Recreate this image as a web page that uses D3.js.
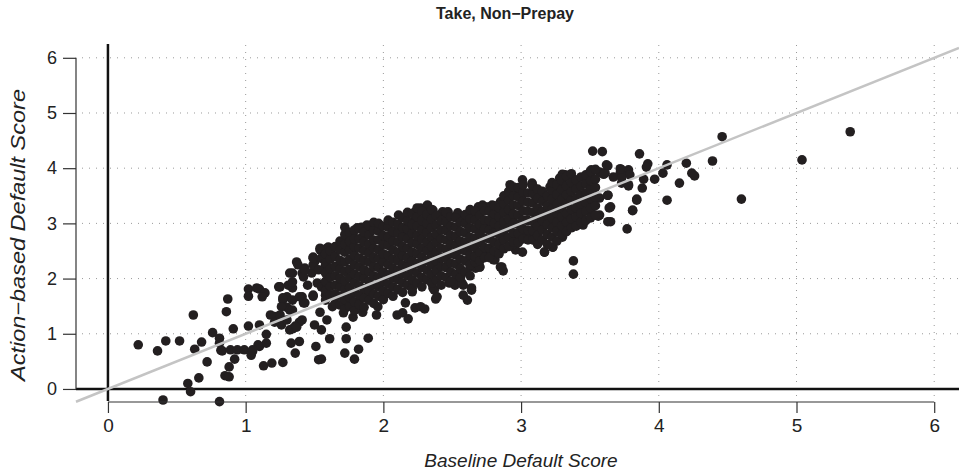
<!DOCTYPE html>
<html>
<head>
<meta charset="utf-8">
<script src="https://cdn.jsdelivr.net/npm/d3@7"></script>
<style>
  body { margin: 0; background: #fff; }
  svg text { font-family: "Liberation Sans", Arial, Helvetica, sans-serif; fill: #222; }
</style>
</head>
<body>
<div id="chart"></div>
<script>

var title = "Take, Non\u2212Prepay";
var xLabel = "Baseline Default Score";
var yLabel = "Action\u2212based Default Score";
var xTicks = [0, 1, 2, 3, 4, 5, 6];
var yTicks = [0, 1, 2, 3, 4, 5, 6];

// [baseline, action-based] pairs
var lowerTail = [
  [0.22,0.80],[0.36,0.69],[0.42,0.87],[0.52,0.87],[0.62,1.34],[0.63,0.72],[0.68,0.85],[0.72,0.49],
  [0.66,0.20],[0.58,0.10],[0.60,-0.05],[0.40,-0.20],[0.81,-0.23],[0.76,1.02],[0.81,0.92],[0.82,0.70],
  [0.81,0.83],[0.83,0.69],[0.86,1.40],[0.87,1.63],[0.91,1.09],[0.89,0.71],[0.94,0.71],[0.99,0.71],
  [0.92,0.54],[0.88,0.40],[0.85,0.24],[0.88,0.22],
  [1.02,1.14],[1.10,1.16],[1.05,0.68],[1.04,0.61],[1.10,0.77],[1.13,0.42],[1.19,0.47],[1.27,0.48],
  [1.15,0.83],[1.15,0.99],[1.09,0.80],[1.05,0.71],
  [1.21,1.31],[1.26,1.16],[1.30,1.48],[1.36,0.65],[1.33,0.83],[1.39,0.86],[1.32,1.07],[1.36,1.14],
  [1.39,1.21],[1.34,1.09],[1.50,1.16],[1.51,0.77],[1.53,0.53],
  [1.42,1.56],[1.27,1.61],[1.02,1.81],[1.02,1.68],[1.10,1.81],[1.14,1.74],[1.24,1.85],[1.30,1.67],
  [1.26,1.49],[1.32,1.43],[1.34,1.83],[1.41,1.67],[1.43,1.56],[1.49,1.68],
  [1.12,1.67],[1.08,1.83],[1.18,1.34],[1.21,1.21],[1.30,1.25],[1.37,1.12],[1.25,1.34],[1.34,1.61],
  [1.27,1.65],[1.34,1.43],[1.41,1.25],
  [1.37,2.30],[1.49,2.39],[1.50,2.30],[1.54,2.52],[1.59,2.55],[1.58,2.25],[1.60,2.16],[1.43,2.19],
  [1.41,2.10],[1.48,2.10],[1.45,1.88],[1.52,1.92],[1.55,1.85],[1.59,1.88],[1.39,1.67],[1.49,1.70],
  [1.58,1.70],[1.42,2.03],[1.34,2.10],[1.38,2.25],[1.43,2.16],[1.32,2.10],[1.31,1.88],[1.34,1.94],
  [1.25,1.85],[1.55,2.37],[1.49,2.25],[1.53,2.16],[1.63,2.43],[1.60,2.57],
  [2.51,1.94],[2.58,1.88],[2.64,1.79],[2.61,1.61],[2.58,1.70],[2.37,1.79],[2.38,1.63],[2.16,1.56],
  [2.10,1.34],[2.14,1.38],[2.18,1.27],[2.23,1.47],[2.27,1.49],[2.30,1.45],[2.21,1.76],
  [1.96,1.49],[1.95,1.34],[1.85,1.39],[1.78,1.30],[1.71,1.38],[1.73,1.12],[1.73,0.91],[1.61,0.91],
  [1.55,1.07],[1.55,0.54],[1.72,0.65],[1.79,0.54],[1.82,0.72],[1.89,0.92],
  [1.88,1.67],[1.82,1.58],[1.74,1.52],[1.59,1.25],[1.54,1.39],[1.63,1.49],[1.58,1.61],[1.63,1.70],
  [2.48,1.92],[2.52,1.88],[2.57,1.92],[2.64,1.83],[2.36,1.83],[2.39,1.67],[2.63,2.21],[2.67,2.19],
  [2.70,2.21],[2.80,2.34],[2.85,2.21],[2.87,2.14],[2.74,2.46],[2.81,2.34],
  [3.17,2.48],[3.23,2.57],[3.38,2.32],[3.38,2.08],[2.96,2.52],[3.01,2.48],[2.94,2.61],[2.85,2.55]
];

// the dense middle of the cloud, column by column: [baseline, [action-based values]]
var coreColumns = [
  [1.58, [1.78, 1.95, 2.10, 2.28, 2.45]],
  [1.615, [1.70, 1.86, 2.02, 2.18, 2.35, 2.50]],
  [1.65, [1.55, 1.72, 1.88, 2.05, 2.22, 2.40, 2.58]],
  [1.685, [1.52, 1.68, 1.85, 2.00, 2.17, 2.33, 2.52, 2.68]],
  [1.72, [1.45, 1.62, 1.80, 1.96, 2.13, 2.30, 2.48, 2.62, 2.80]],
  [1.755, [1.50, 1.66, 1.84, 2.01, 2.17, 2.35, 2.52, 2.67, 2.84]],
  [1.79, [1.42, 1.58, 1.75, 1.92, 2.08, 2.25, 2.42, 2.58, 2.72, 2.88]],
  [1.825, [1.53, 1.70, 1.87, 2.04, 2.21, 2.37, 2.55, 2.72, 2.90]],
  [1.86, [1.48, 1.65, 1.82, 2.00, 2.16, 2.33, 2.50, 2.66, 2.84]],
  [1.895, [1.61, 1.78, 1.95, 2.12, 2.30, 2.46, 2.62, 2.79, 2.96]],
  [1.93, [1.55, 1.72, 1.88, 2.05, 2.22, 2.38, 2.55, 2.70, 2.88, 3.02]],
  [1.965, [1.68, 1.85, 2.03, 2.20, 2.36, 2.52, 2.70, 2.86, 3.00]],
  [2.00, [1.62, 1.78, 1.95, 2.12, 2.30, 2.45, 2.62, 2.78, 2.95]],
  [2.035, [1.73, 1.90, 2.07, 2.25, 2.42, 2.60, 2.76, 2.93, 3.06]],
  [2.07, [1.68, 1.85, 2.02, 2.18, 2.35, 2.52, 2.68, 2.85, 3.02]],
  [2.105, [1.80, 1.98, 2.15, 2.32, 2.48, 2.66, 2.82, 2.98]],
  [2.14, [1.75, 1.92, 2.08, 2.25, 2.42, 2.58, 2.75, 2.92, 3.10]],
  [2.175, [1.88, 2.05, 2.22, 2.38, 2.55, 2.72, 2.90, 3.05, 3.20]],
  [2.21, [1.82, 1.98, 2.15, 2.32, 2.48, 2.65, 2.82, 2.98, 3.18]],
  [2.245, [1.92, 2.10, 2.27, 2.45, 2.62, 2.78, 2.95, 3.12, 3.28]],
  [2.28, [1.85, 2.02, 2.20, 2.38, 2.55, 2.72, 2.88, 3.05, 3.22]],
  [2.315, [1.98, 2.15, 2.32, 2.50, 2.66, 2.83, 3.00, 3.16]],
  [2.35, [1.92, 2.08, 2.25, 2.42, 2.58, 2.75, 2.92, 3.08, 3.25]],
  [2.385, [1.97, 2.14, 2.31, 2.48, 2.65, 2.80, 2.97, 3.14]],
  [2.42, [1.88, 2.05, 2.22, 2.38, 2.55, 2.72, 2.88, 3.05]],
  [2.455, [2.02, 2.20, 2.36, 2.53, 2.70, 2.87, 3.03, 3.20]],
  [2.49, [1.95, 2.12, 2.28, 2.45, 2.62, 2.78, 2.95, 3.12]],
  [2.525, [2.08, 2.26, 2.43, 2.60, 2.76, 2.93, 3.10]],
  [2.56, [2.02, 2.18, 2.35, 2.52, 2.68, 2.85, 3.02]],
  [2.595, [2.12, 2.32, 2.50, 2.66, 2.83, 3.00, 3.16]],
  [2.63, [2.05, 2.25, 2.42, 2.58, 2.75, 2.92, 3.08, 3.25]],
  [2.665, [2.30, 2.40, 2.56, 2.73, 2.90, 3.06, 3.22]],
  [2.70, [2.32, 2.48, 2.65, 2.82, 2.98, 3.15]],
  [2.735, [2.38, 2.56, 2.73, 2.90, 3.06, 3.23]],
  [2.77, [2.38, 2.55, 2.72, 2.88, 3.05, 3.22]],
  [2.805, [2.50, 2.66, 2.83, 3.00, 3.17, 3.32]],
  [2.84, [2.45, 2.62, 2.80, 2.95, 3.12, 3.28]],
  [2.875, [2.54, 2.70, 2.87, 3.03, 3.20, 3.36, 3.50]],
  [2.91, [2.58, 2.75, 2.92, 3.08, 3.25, 3.42, 3.58]],
  [2.945, [2.66, 2.83, 3.00, 3.17, 3.33, 3.50, 3.66]],
  [2.98, [2.65, 2.82, 2.98, 3.15, 3.32, 3.48, 3.65]],
  [3.015, [2.72, 2.90, 3.06, 3.23, 3.40, 3.56, 3.70]],
  [3.05, [2.70, 2.88, 3.05, 3.22, 3.38, 3.55]],
  [3.085, [2.70, 2.87, 3.03, 3.20, 3.37, 3.54, 3.68]],
  [3.12, [2.62, 2.78, 2.95, 3.12, 3.28, 3.45, 3.62]],
  [3.155, [2.70, 2.88, 3.05, 3.22, 3.40, 3.58]],
  [3.19, [2.62, 2.80, 2.98, 3.15, 3.32, 3.50]],
  [3.225, [2.75, 2.92, 3.10, 3.26, 3.44, 3.60, 3.74]],
  [3.26, [2.68, 2.85, 3.02, 3.18, 3.35, 3.52, 3.70]],
  [3.295, [2.80, 2.96, 3.12, 3.28, 3.44, 3.62, 3.78]],
  [3.33, [2.85, 3.02, 3.18, 3.35, 3.52, 3.68, 3.85]],
  [3.365, [2.92, 3.08, 3.25, 3.42, 3.58, 3.74, 3.90]],
  [3.40, [2.95, 3.12, 3.28, 3.45, 3.62, 3.78]],
  [3.435, [3.02, 3.18, 3.35, 3.52, 3.68, 3.84]],
  [3.47, [3.05, 3.22, 3.38, 3.55, 3.72, 3.88]],
  [3.505, [3.10, 3.28, 3.45, 3.62, 3.78, 3.94]],
  [3.54, [3.15, 3.32, 3.48, 3.65, 3.80, 3.98]]
];

var upperEdge = [
  [2.11,3.15],[2.16,3.10],[2.23,3.21],[2.27,3.28],[2.32,3.32],[2.34,3.15],[2.28,3.03],[2.24,3.12],
  [2.43,3.21],[2.47,3.21],[2.43,3.06],[2.54,3.15],[2.57,3.10],[2.64,3.21],[2.65,3.10],[2.69,3.30],
  [2.70,3.21],[1.72,2.93],[1.84,2.93],[1.88,2.97],[2.14,2.92],[2.21,2.93],[2.32,2.93],[2.46,2.92],
  [1.81,2.92],[1.90,2.83],[1.85,2.75],[1.78,2.79],[1.74,2.70],[2.01,2.74],[2.07,2.83],[2.14,2.84],
  [2.18,2.75],[1.54,2.55],[1.63,2.43],[1.55,2.37],[1.49,2.37],
  [2.32,3.33],[2.72,3.33],[2.85,3.39],[2.92,3.70],[3.01,3.55],[2.98,3.55],[3.08,3.70],[2.86,3.37],
  [2.79,3.33],[2.70,3.28],[2.64,3.19],[2.54,3.19],[2.46,3.19],[2.36,3.24],[2.30,3.21],[2.23,3.06]
];

var upperTail = [
  [5.39,4.66],[4.46,4.57],[5.04,4.15],[4.60,3.44],[4.39,4.13],[4.20,4.09],[4.24,3.91],[4.26,3.86],[4.15,3.73],
  [4.06,3.42],[4.06,4.06],[4.03,3.91],[3.97,3.80],[3.92,4.08],[3.91,4.02],[3.86,4.26],[3.89,3.80],
  [3.88,3.64],[3.84,3.44],[3.81,3.23],[3.77,2.90],[3.65,3.03],[3.64,3.28],[3.63,3.51],[3.52,4.31],
  [3.59,4.30],[3.78,3.97],[3.77,3.93],[3.73,3.97],[3.72,3.91],[3.67,3.84],[3.73,3.73],[3.78,3.68],
  [3.63,4.04],[3.61,3.91],[3.59,3.91],[3.51,3.97],[3.52,3.82],
  [3.39,3.79],[3.37,3.70],[3.32,3.88],[3.30,3.89],[3.48,3.55],[3.57,3.46],[3.52,3.42],[3.51,3.30],
  [3.45,3.33],[3.46,3.30],[3.41,3.46],[3.32,3.48],[3.30,3.42],[3.57,3.15],[3.51,3.19],[3.44,3.10],
  [3.44,2.99],[3.39,3.06],[3.38,3.01],[3.33,3.15],[3.32,2.84],[3.30,2.75],
  [3.62,4.06],[3.50,3.93],[3.57,3.93],[3.60,3.89],[3.72,3.99],[3.79,3.88],[3.73,3.82],[3.78,3.70],
  [3.84,3.42],[3.81,3.24],[3.63,3.51],[3.65,3.30],[3.63,3.03],[3.28,3.82],[3.35,3.66],[3.43,3.46],
  [3.41,3.30],[3.56,3.13],[3.34,3.12],[3.45,2.97],[3.34,2.97],[3.30,2.92],[3.01,3.79],[3.08,3.73],
  [2.93,3.66],[2.86,3.39],[2.77,3.30],[2.74,3.30],[2.72,3.28],[2.99,3.57],[3.01,3.42],[3.10,3.51],
  [3.15,3.46],[3.20,3.48],[3.21,3.66],[3.23,3.61],[3.27,3.51],[3.30,3.46],[3.34,3.48],[3.21,3.30],
  [3.19,3.24],[3.14,3.21],[2.93,3.19],[2.94,3.06],[2.81,3.24],[2.82,3.12],[2.79,3.10],[2.74,3.01],
  [2.80,2.97],[3.04,3.06],[3.12,3.06],[3.21,3.01],[3.26,3.01],[3.41,3.24],[3.45,3.28],[3.49,3.33],
  [3.41,3.01],[3.36,3.03],[3.27,3.01],[3.21,2.99],[3.16,3.03],[2.75,2.92],[2.83,3.01],
  [3.23,2.57],[3.17,2.48],[3.09,2.84],[3.06,2.79],[3.01,2.83],[2.97,2.74],[2.86,2.75],[2.74,2.48],
  [2.70,2.21],[2.86,2.21]
];

var points = lowerTail.concat(upperEdge, upperTail);
coreColumns.forEach(function(c) {
  c[1].forEach(function(v) { points.push([c[0], v]); });
});

var width = 959, height = 472;

var x = d3.scaleLinear().domain([-0.232, 6.18]).range([76, 959]);
var y = d3.scaleLinear().domain([-0.2, 6.25]).range([400, 44]);

var svg = d3.select("#chart").append("svg")
  .attr("width", width)
  .attr("height", height)
  .style("background", "#fff");

// dotted grid
svg.append("g").selectAll("line")
  .data(yTicks)
  .enter().append("line")
  .attr("x1", 82).attr("x2", width)
  .attr("y1", function(d) { return y(d); })
  .attr("y2", function(d) { return y(d); })
  .attr("stroke", "#9a9a9a")
  .attr("stroke-width", 1)
  .attr("stroke-dasharray", "1,6");

svg.append("g").selectAll("line")
  .data(xTicks)
  .enter().append("line")
  .attr("x1", function(d) { return x(d); })
  .attr("x2", function(d) { return x(d); })
  .attr("y1", 45).attr("y2", 399)
  .attr("stroke", "#9a9a9a")
  .attr("stroke-width", 1)
  .attr("stroke-dasharray", "1,6");

// thick zero lines
svg.append("line")
  .attr("x1", x(0)).attr("x2", x(0))
  .attr("y1", 44).attr("y2", 401)
  .attr("stroke", "#111").attr("stroke-width", 2.5);
svg.append("line")
  .attr("x1", 76).attr("x2", width)
  .attr("y1", y(0)).attr("y2", y(0))
  .attr("stroke", "#111").attr("stroke-width", 2.5);

// points
svg.append("g").selectAll("circle")
  .data(points)
  .enter().append("circle")
  .attr("cx", function(d) { return x(d[0]); })
  .attr("cy", function(d) { return y(d[1]); })
  .attr("r", 4.8)
  .attr("fill", "#231f20");

// 45 degree reference line, drawn over the points
svg.append("line")
  .attr("x1", x(-0.232)).attr("y1", y(-0.232))
  .attr("x2", x(6.18)).attr("y2", y(6.18))
  .attr("stroke", "#c4c4c4").attr("stroke-width", 2.5);

// axes, R style
var xAxis = d3.axisBottom(x).tickValues(xTicks).tickSize(11).tickPadding(6).tickFormat(d3.format("d"));
var yAxis = d3.axisLeft(y).tickValues(yTicks).tickSize(13).tickPadding(6).tickFormat(d3.format("d"));

var gx = svg.append("g").attr("transform", "translate(0,402)").call(xAxis);
gx.select(".domain").attr("d", "M" + x(0) + ",0H" + x(6));
var gy = svg.append("g").attr("transform", "translate(76,0)").call(yAxis);
gy.select(".domain").attr("d", "M0," + y(0) + "V" + y(6));

[gx, gy].forEach(function(g) {
  g.select(".domain").attr("stroke", "#333").attr("stroke-width", 1.2);
  g.selectAll(".tick line").attr("stroke", "#333").attr("stroke-width", 1.2);
  g.selectAll(".tick text").attr("fill", "#222").style("font-family", "'Liberation Sans', Arial, sans-serif");
});
gx.selectAll(".tick text").style("font-size", "19px");
gy.selectAll(".tick text").style("font-size", "18px");

svg.append("text")
  .attr("x", 505).attr("y", 19)
  .attr("text-anchor", "middle")
  .style("font-size", "16px")
  .style("font-weight", "bold")
  .text(title);

svg.append("text")
  .attr("x", 521).attr("y", 467)
  .attr("text-anchor", "middle")
  .style("font-size", "19px")
  .style("font-style", "italic")
  .text(xLabel);

svg.append("text")
  .attr("transform", "translate(25,235) rotate(-90)")
  .attr("text-anchor", "middle")
  .attr("textLength", 292)
  .attr("lengthAdjust", "spacingAndGlyphs")
  .style("font-size", "20px")
  .style("font-style", "italic")
  .text(yLabel);

</script>
</body>
</html>
